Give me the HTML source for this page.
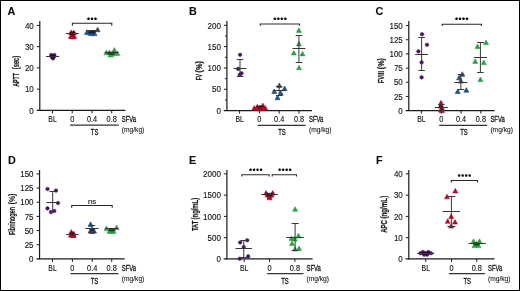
<!DOCTYPE html>
<html><head><meta charset="utf-8"><style>
html,body{margin:0;padding:0;background:#fff;}
svg{display:block;will-change:transform;}
text{font-family:"Liberation Sans",sans-serif;fill:#111;stroke:#111;stroke-width:0.12;}
.c{stroke:#111;stroke-width:0.3;}
.b{font-weight:bold;stroke:#1a1a1a;stroke-width:0.22;vector-effect:non-scaling-stroke;fill:#1a1a1a;}
.d{stroke:#111;stroke-width:0.1;}
</style></head><body>
<svg width="520" height="291" viewBox="0 0 520 291">
<rect x="0.5" y="0.5" width="519" height="290" fill="#fff" stroke="#000" stroke-width="1"/>
<text x="7.5" y="15.2" font-size="10.8" font-weight="bold" stroke="#000" stroke-width="0.3">A</text>
<line x1="39.8" y1="21" x2="39.8" y2="110.9" stroke="#1a1a1a" stroke-width="1.2"/>
<line x1="36.6" y1="110.4" x2="125.4" y2="110.4" stroke="#1a1a1a" stroke-width="1.2"/>
<line x1="36.8" y1="25.4" x2="39.8" y2="25.4" stroke="#1a1a1a" stroke-width="1"/>
<line x1="36.8" y1="46.65" x2="39.8" y2="46.65" stroke="#1a1a1a" stroke-width="1"/>
<line x1="36.8" y1="67.9" x2="39.8" y2="67.9" stroke="#1a1a1a" stroke-width="1"/>
<line x1="36.8" y1="89.15" x2="39.8" y2="89.15" stroke="#1a1a1a" stroke-width="1"/>
<text x="33.8" y="28.6" font-size="8.5" text-anchor="end" textLength="8.9" lengthAdjust="spacingAndGlyphs">40</text>
<text x="33.8" y="49.85" font-size="8.5" text-anchor="end" textLength="8.9" lengthAdjust="spacingAndGlyphs">30</text>
<text x="33.8" y="71.1" font-size="8.5" text-anchor="end" textLength="8.9" lengthAdjust="spacingAndGlyphs">20</text>
<text x="33.8" y="92.35" font-size="8.5" text-anchor="end" textLength="8.9" lengthAdjust="spacingAndGlyphs">10</text>
<text x="33.8" y="113.6" font-size="8.5" text-anchor="end" textLength="4.45" lengthAdjust="spacingAndGlyphs">0</text>
<line x1="52.5" y1="110.4" x2="52.5" y2="113.4" stroke="#1a1a1a" stroke-width="1"/>
<line x1="72.2" y1="110.4" x2="72.2" y2="113.4" stroke="#1a1a1a" stroke-width="1"/>
<line x1="92.0" y1="110.4" x2="92.0" y2="113.4" stroke="#1a1a1a" stroke-width="1"/>
<line x1="111.7" y1="110.4" x2="111.7" y2="113.4" stroke="#1a1a1a" stroke-width="1"/>
<text x="52.5" y="122.0" font-size="8.2" text-anchor="middle" textLength="8.4" lengthAdjust="spacingAndGlyphs">BL</text>
<text x="72.2" y="122.0" font-size="8.2" text-anchor="middle" textLength="4.1" lengthAdjust="spacingAndGlyphs">0</text>
<text x="92.0" y="122.0" font-size="8.2" text-anchor="middle" textLength="10.2" lengthAdjust="spacingAndGlyphs">0.4</text>
<text x="111.7" y="122.0" font-size="8.2" text-anchor="middle" textLength="10.2" lengthAdjust="spacingAndGlyphs">0.8</text>
<text x="121.8" y="122.0" font-size="8.9" textLength="14.3" lengthAdjust="spacingAndGlyphs" class="c">SFVa</text>
<text x="121.8" y="132.1" font-size="8.1" textLength="22.5" lengthAdjust="spacingAndGlyphs" class="d">(mg/kg)</text>
<line x1="70" y1="125.15" x2="118.6" y2="125.15" stroke="#333" stroke-width="1.3"/>
<text x="94.6" y="135.0" font-size="9.2" text-anchor="middle" textLength="7.5" lengthAdjust="spacingAndGlyphs" class="c">TS</text>
<text class="b" transform="translate(18.9,86.8) rotate(-90)" font-size="8.7" textLength="13.9" lengthAdjust="spacingAndGlyphs">APTT</text>
<text class="b" transform="translate(18.9,69.2) rotate(-90)" font-size="8.7" textLength="13.4" lengthAdjust="spacingAndGlyphs">(sec)</text>
<path d="M72.4 25.8V23.3H111.8V25.8" fill="none" stroke="#2a2a2a" stroke-width="1.1"/>
<polygon points="88.50,17.25 89.18,17.86 89.97,18.32 89.61,19.16 89.41,20.05 88.50,19.96 87.59,20.05 87.39,19.16 87.03,18.32 87.82,17.86" fill="#111"/>
<polygon points="92.00,17.25 92.68,17.86 93.47,18.32 93.11,19.16 92.91,20.05 92.00,19.96 91.09,20.05 90.89,19.16 90.53,18.32 91.32,17.86" fill="#111"/>
<polygon points="95.50,17.25 96.18,17.86 96.97,18.32 96.61,19.16 96.41,20.05 95.50,19.96 94.59,20.05 94.39,19.16 94.03,18.32 94.82,17.86" fill="#111"/>
<circle cx="51.2" cy="55.0" r="1.8" fill="#52106f" stroke="#3c0858" stroke-width="0.45"/>
<circle cx="54.4" cy="55.0" r="1.8" fill="#52106f" stroke="#3c0858" stroke-width="0.45"/>
<circle cx="51.7" cy="56.8" r="1.8" fill="#52106f" stroke="#3c0858" stroke-width="0.45"/>
<circle cx="53.9" cy="56.8" r="1.8" fill="#52106f" stroke="#3c0858" stroke-width="0.45"/>
<circle cx="52.9" cy="58.4" r="1.8" fill="#52106f" stroke="#3c0858" stroke-width="0.45"/>
<ellipse cx="52.8" cy="56.6" rx="2.4" ry="1.8" fill="#12001c" opacity="0.75"/>
<path d="M71.10 30.00L73.60 34.60L68.60 34.60Z" fill="#cc0024" stroke="#b0001c" stroke-width="0.5" stroke-linejoin="round"/>
<path d="M73.90 30.00L76.40 34.60L71.40 34.60Z" fill="#cc0024" stroke="#b0001c" stroke-width="0.5" stroke-linejoin="round"/>
<path d="M72.50 31.50L75.00 36.10L70.00 36.10Z" fill="#cc0024" stroke="#b0001c" stroke-width="0.5" stroke-linejoin="round"/>
<path d="M70.90 33.80L73.40 38.40L68.40 38.40Z" fill="#cc0024" stroke="#b0001c" stroke-width="0.5" stroke-linejoin="round"/>
<path d="M74.10 33.80L76.60 38.40L71.60 38.40Z" fill="#cc0024" stroke="#b0001c" stroke-width="0.5" stroke-linejoin="round"/>
<path d="M72.50 34.20L75.00 38.80L70.00 38.80Z" fill="#cc0024" stroke="#b0001c" stroke-width="0.5" stroke-linejoin="round"/>
<ellipse cx="72.5" cy="33.4" rx="3.2" ry="2.0" fill="#28000a" opacity="0.75"/>
<path d="M86.90 29.80L89.40 34.40L84.40 34.40Z" fill="#175a9c" stroke="#082c52" stroke-width="0.5" stroke-linejoin="round"/>
<path d="M90.00 30.50L92.50 35.10L87.50 35.10Z" fill="#175a9c" stroke="#082c52" stroke-width="0.5" stroke-linejoin="round"/>
<path d="M92.50 30.00L95.00 34.60L90.00 34.60Z" fill="#175a9c" stroke="#082c52" stroke-width="0.5" stroke-linejoin="round"/>
<path d="M94.50 31.00L97.00 35.60L92.00 35.60Z" fill="#175a9c" stroke="#082c52" stroke-width="0.5" stroke-linejoin="round"/>
<path d="M91.50 31.00L94.00 35.60L89.00 35.60Z" fill="#175a9c" stroke="#082c52" stroke-width="0.5" stroke-linejoin="round"/>
<path d="M97.60 27.20L100.10 31.80L95.10 31.80Z" fill="#175a9c" stroke="#082c52" stroke-width="0.5" stroke-linejoin="round"/>
<ellipse cx="91.8" cy="31.8" rx="4.0" ry="1.6" fill="#031530" opacity="0.75"/>
<path d="M106.30 50.00L108.80 54.60L103.80 54.60Z" fill="#22aa3c" stroke="#1a9432" stroke-width="0.5" stroke-linejoin="round"/>
<path d="M109.30 50.00L111.80 54.60L106.80 54.60Z" fill="#22aa3c" stroke="#1a9432" stroke-width="0.5" stroke-linejoin="round"/>
<path d="M112.50 51.50L115.00 56.10L110.00 56.10Z" fill="#22aa3c" stroke="#1a9432" stroke-width="0.5" stroke-linejoin="round"/>
<path d="M114.30 47.60L116.80 52.20L111.80 52.20Z" fill="#22aa3c" stroke="#1a9432" stroke-width="0.5" stroke-linejoin="round"/>
<path d="M117.30 50.80L119.80 55.40L114.80 55.40Z" fill="#22aa3c" stroke="#1a9432" stroke-width="0.5" stroke-linejoin="round"/>
<path d="M110.50 52.30L113.00 56.90L108.00 56.90Z" fill="#22aa3c" stroke="#1a9432" stroke-width="0.5" stroke-linejoin="round"/>
<ellipse cx="111.6" cy="53.2" rx="4.5" ry="1.6" fill="#03280a" opacity="0.75"/>
<text x="188.9" y="15.2" font-size="10.8" font-weight="bold" stroke="#000" stroke-width="0.3">B</text>
<line x1="226.9" y1="21" x2="226.9" y2="111.1" stroke="#1a1a1a" stroke-width="1.2"/>
<line x1="223.7" y1="110.6" x2="312" y2="110.6" stroke="#1a1a1a" stroke-width="1.2"/>
<line x1="223.9" y1="25.3" x2="226.9" y2="25.3" stroke="#1a1a1a" stroke-width="1"/>
<line x1="223.9" y1="46.62" x2="226.9" y2="46.62" stroke="#1a1a1a" stroke-width="1"/>
<line x1="223.9" y1="67.95" x2="226.9" y2="67.95" stroke="#1a1a1a" stroke-width="1"/>
<line x1="223.9" y1="89.27" x2="226.9" y2="89.27" stroke="#1a1a1a" stroke-width="1"/>
<text x="220.9" y="28.5" font-size="8.5" text-anchor="end" textLength="13.35" lengthAdjust="spacingAndGlyphs">200</text>
<text x="220.9" y="49.82" font-size="8.5" text-anchor="end" textLength="13.35" lengthAdjust="spacingAndGlyphs">150</text>
<text x="220.9" y="71.15" font-size="8.5" text-anchor="end" textLength="13.35" lengthAdjust="spacingAndGlyphs">100</text>
<text x="220.9" y="92.47" font-size="8.5" text-anchor="end" textLength="8.9" lengthAdjust="spacingAndGlyphs">50</text>
<text x="220.9" y="113.8" font-size="8.5" text-anchor="end" textLength="4.45" lengthAdjust="spacingAndGlyphs">0</text>
<line x1="224.9" y1="35.96" x2="226.9" y2="35.96" stroke="#1a1a1a" stroke-width="1"/>
<line x1="224.9" y1="57.29" x2="226.9" y2="57.29" stroke="#1a1a1a" stroke-width="1"/>
<line x1="224.9" y1="78.61" x2="226.9" y2="78.61" stroke="#1a1a1a" stroke-width="1"/>
<line x1="224.9" y1="99.94" x2="226.9" y2="99.94" stroke="#1a1a1a" stroke-width="1"/>
<line x1="239.6" y1="110.6" x2="239.6" y2="113.6" stroke="#1a1a1a" stroke-width="1"/>
<line x1="259.4" y1="110.6" x2="259.4" y2="113.6" stroke="#1a1a1a" stroke-width="1"/>
<line x1="279.2" y1="110.6" x2="279.2" y2="113.6" stroke="#1a1a1a" stroke-width="1"/>
<line x1="299.0" y1="110.6" x2="299.0" y2="113.6" stroke="#1a1a1a" stroke-width="1"/>
<text x="239.6" y="122.2" font-size="8.2" text-anchor="middle" textLength="8.4" lengthAdjust="spacingAndGlyphs">BL</text>
<text x="259.4" y="122.2" font-size="8.2" text-anchor="middle" textLength="4.1" lengthAdjust="spacingAndGlyphs">0</text>
<text x="279.2" y="122.2" font-size="8.2" text-anchor="middle" textLength="10.2" lengthAdjust="spacingAndGlyphs">0.4</text>
<text x="299.0" y="122.2" font-size="8.2" text-anchor="middle" textLength="10.2" lengthAdjust="spacingAndGlyphs">0.8</text>
<text x="309" y="122.2" font-size="8.9" textLength="14.3" lengthAdjust="spacingAndGlyphs" class="c">SFVa</text>
<text x="309" y="132.3" font-size="8.1" textLength="22.5" lengthAdjust="spacingAndGlyphs" class="d">(mg/kg)</text>
<line x1="257.6" y1="125.35" x2="305.6" y2="125.35" stroke="#333" stroke-width="1.3"/>
<text x="282" y="135.2" font-size="9.2" text-anchor="middle" textLength="7.5" lengthAdjust="spacingAndGlyphs" class="c">TS</text>
<text class="b" transform="translate(201.8,80.3) rotate(-90)" font-size="8.7" textLength="6.3" lengthAdjust="spacingAndGlyphs">FV</text>
<text class="b" transform="translate(201.8,72.5) rotate(-90)" font-size="8.7" textLength="11.4" lengthAdjust="spacingAndGlyphs">(%)</text>
<path d="M260.2 25.8V24H299.5V25.8" fill="none" stroke="#2a2a2a" stroke-width="1.1"/>
<polygon points="274.85,17.25 275.53,17.86 276.32,18.32 275.96,19.16 275.76,20.05 274.85,19.96 273.94,20.05 273.74,19.16 273.38,18.32 274.17,17.86" fill="#111"/>
<polygon points="278.35,17.25 279.03,17.86 279.82,18.32 279.46,19.16 279.26,20.05 278.35,19.96 277.44,20.05 277.24,19.16 276.88,18.32 277.67,17.86" fill="#111"/>
<polygon points="281.85,17.25 282.53,17.86 283.32,18.32 282.96,19.16 282.76,20.05 281.85,19.96 280.94,20.05 280.74,19.16 280.38,18.32 281.17,17.86" fill="#111"/>
<polygon points="285.35,17.25 286.03,17.86 286.82,18.32 286.46,19.16 286.26,20.05 285.35,19.96 284.44,20.05 284.24,19.16 283.88,18.32 284.67,17.86" fill="#111"/>
<circle cx="240.1" cy="54.8" r="1.8" fill="#52106f" stroke="#3c0858" stroke-width="0.45"/>
<circle cx="238.2" cy="68.9" r="1.8" fill="#52106f" stroke="#3c0858" stroke-width="0.45"/>
<circle cx="241.5" cy="73.3" r="1.8" fill="#52106f" stroke="#3c0858" stroke-width="0.45"/>
<circle cx="239.7" cy="74.8" r="1.8" fill="#52106f" stroke="#3c0858" stroke-width="0.45"/>
<path d="M254.30 105.60L256.80 110.20L251.80 110.20Z" fill="#cc0024" stroke="#b0001c" stroke-width="0.5" stroke-linejoin="round"/>
<path d="M257.30 104.20L259.80 108.80L254.80 108.80Z" fill="#cc0024" stroke="#b0001c" stroke-width="0.5" stroke-linejoin="round"/>
<path d="M260.20 105.00L262.70 109.60L257.70 109.60Z" fill="#cc0024" stroke="#b0001c" stroke-width="0.5" stroke-linejoin="round"/>
<path d="M262.80 103.00L265.30 107.60L260.30 107.60Z" fill="#cc0024" stroke="#b0001c" stroke-width="0.5" stroke-linejoin="round"/>
<path d="M265.30 105.60L267.80 110.20L262.80 110.20Z" fill="#cc0024" stroke="#b0001c" stroke-width="0.5" stroke-linejoin="round"/>
<path d="M258.50 106.00L261.00 110.60L256.00 110.60Z" fill="#cc0024" stroke="#b0001c" stroke-width="0.5" stroke-linejoin="round"/>
<path d="M262.00 106.00L264.50 110.60L259.50 110.60Z" fill="#cc0024" stroke="#b0001c" stroke-width="0.5" stroke-linejoin="round"/>
<ellipse cx="259.8" cy="107.0" rx="3.8" ry="1.5" fill="#28000a" opacity="0.75"/>
<path d="M279.30 82.90L281.80 87.50L276.80 87.50Z" fill="#175a9c" stroke="#082c52" stroke-width="0.5" stroke-linejoin="round"/>
<path d="M284.60 86.10L287.10 90.70L282.10 90.70Z" fill="#175a9c" stroke="#082c52" stroke-width="0.5" stroke-linejoin="round"/>
<path d="M274.30 89.00L276.80 93.60L271.80 93.60Z" fill="#175a9c" stroke="#082c52" stroke-width="0.5" stroke-linejoin="round"/>
<path d="M280.80 90.60L283.30 95.20L278.30 95.20Z" fill="#175a9c" stroke="#082c52" stroke-width="0.5" stroke-linejoin="round"/>
<path d="M277.50 95.10L280.00 99.70L275.00 99.70Z" fill="#175a9c" stroke="#082c52" stroke-width="0.5" stroke-linejoin="round"/>
<path d="M298.90 27.80L301.40 32.40L296.40 32.40Z" fill="#22aa3c" stroke="#1a9432" stroke-width="0.5" stroke-linejoin="round"/>
<path d="M298.90 41.30L301.40 45.90L296.40 45.90Z" fill="#22aa3c" stroke="#1a9432" stroke-width="0.5" stroke-linejoin="round"/>
<path d="M293.80 50.40L296.30 55.00L291.30 55.00Z" fill="#22aa3c" stroke="#1a9432" stroke-width="0.5" stroke-linejoin="round"/>
<path d="M302.50 51.30L305.00 55.90L300.00 55.90Z" fill="#22aa3c" stroke="#1a9432" stroke-width="0.5" stroke-linejoin="round"/>
<path d="M299.00 65.20L301.50 69.80L296.50 69.80Z" fill="#22aa3c" stroke="#1a9432" stroke-width="0.5" stroke-linejoin="round"/>
<text x="375.5" y="15.2" font-size="10.8" font-weight="bold" stroke="#000" stroke-width="0.3">C</text>
<line x1="408.8" y1="21" x2="408.8" y2="111.1" stroke="#1a1a1a" stroke-width="1.2"/>
<line x1="405.6" y1="110.6" x2="494.6" y2="110.6" stroke="#1a1a1a" stroke-width="1.2"/>
<line x1="405.8" y1="25.59" x2="408.8" y2="25.59" stroke="#1a1a1a" stroke-width="1"/>
<line x1="405.8" y1="39.76" x2="408.8" y2="39.76" stroke="#1a1a1a" stroke-width="1"/>
<line x1="405.8" y1="53.93" x2="408.8" y2="53.93" stroke="#1a1a1a" stroke-width="1"/>
<line x1="405.8" y1="68.1" x2="408.8" y2="68.1" stroke="#1a1a1a" stroke-width="1"/>
<line x1="405.8" y1="82.26" x2="408.8" y2="82.26" stroke="#1a1a1a" stroke-width="1"/>
<line x1="405.8" y1="96.43" x2="408.8" y2="96.43" stroke="#1a1a1a" stroke-width="1"/>
<text x="402.8" y="28.79" font-size="8.5" text-anchor="end" textLength="13.35" lengthAdjust="spacingAndGlyphs">150</text>
<text x="402.8" y="42.96" font-size="8.5" text-anchor="end" textLength="13.35" lengthAdjust="spacingAndGlyphs">125</text>
<text x="402.8" y="57.13" font-size="8.5" text-anchor="end" textLength="13.35" lengthAdjust="spacingAndGlyphs">100</text>
<text x="402.8" y="71.3" font-size="8.5" text-anchor="end" textLength="8.9" lengthAdjust="spacingAndGlyphs">75</text>
<text x="402.8" y="85.46" font-size="8.5" text-anchor="end" textLength="8.9" lengthAdjust="spacingAndGlyphs">50</text>
<text x="402.8" y="99.63" font-size="8.5" text-anchor="end" textLength="8.9" lengthAdjust="spacingAndGlyphs">25</text>
<text x="402.8" y="113.8" font-size="8.5" text-anchor="end" textLength="4.45" lengthAdjust="spacingAndGlyphs">0</text>
<line x1="421.4" y1="110.6" x2="421.4" y2="113.6" stroke="#1a1a1a" stroke-width="1"/>
<line x1="441.3" y1="110.6" x2="441.3" y2="113.6" stroke="#1a1a1a" stroke-width="1"/>
<line x1="461.1" y1="110.6" x2="461.1" y2="113.6" stroke="#1a1a1a" stroke-width="1"/>
<line x1="480.9" y1="110.6" x2="480.9" y2="113.6" stroke="#1a1a1a" stroke-width="1"/>
<text x="421.4" y="122.2" font-size="8.2" text-anchor="middle" textLength="8.4" lengthAdjust="spacingAndGlyphs">BL</text>
<text x="441.3" y="122.2" font-size="8.2" text-anchor="middle" textLength="4.1" lengthAdjust="spacingAndGlyphs">0</text>
<text x="461.1" y="122.2" font-size="8.2" text-anchor="middle" textLength="10.2" lengthAdjust="spacingAndGlyphs">0.4</text>
<text x="480.9" y="122.2" font-size="8.2" text-anchor="middle" textLength="10.2" lengthAdjust="spacingAndGlyphs">0.8</text>
<text x="490.4" y="122.2" font-size="8.9" textLength="14.3" lengthAdjust="spacingAndGlyphs" class="c">SFVa</text>
<text x="490.4" y="132.3" font-size="8.1" textLength="22.5" lengthAdjust="spacingAndGlyphs" class="d">(mg/kg)</text>
<line x1="439.2" y1="125.35" x2="487.2" y2="125.35" stroke="#333" stroke-width="1.3"/>
<text x="464" y="135.2" font-size="9.2" text-anchor="middle" textLength="7.5" lengthAdjust="spacingAndGlyphs" class="c">TS</text>
<text class="b" transform="translate(384,83.2) rotate(-90)" font-size="8.7" textLength="12.3" lengthAdjust="spacingAndGlyphs">FVIII</text>
<text class="b" transform="translate(384,69.2) rotate(-90)" font-size="8.7" textLength="11.1" lengthAdjust="spacingAndGlyphs">(%)</text>
<path d="M442.2 26V24.2H481.5V26" fill="none" stroke="#2a2a2a" stroke-width="1.1"/>
<polygon points="456.55,17.25 457.23,17.86 458.02,18.32 457.66,19.16 457.46,20.05 456.55,19.96 455.64,20.05 455.44,19.16 455.08,18.32 455.87,17.86" fill="#111"/>
<polygon points="460.05,17.25 460.73,17.86 461.52,18.32 461.16,19.16 460.96,20.05 460.05,19.96 459.14,20.05 458.94,19.16 458.58,18.32 459.37,17.86" fill="#111"/>
<polygon points="463.55,17.25 464.23,17.86 465.02,18.32 464.66,19.16 464.46,20.05 463.55,19.96 462.64,20.05 462.44,19.16 462.08,18.32 462.87,17.86" fill="#111"/>
<polygon points="467.05,17.25 467.73,17.86 468.52,18.32 468.16,19.16 467.96,20.05 467.05,19.96 466.14,20.05 465.94,19.16 465.58,18.32 466.37,17.86" fill="#111"/>
<circle cx="422" cy="34.2" r="1.8" fill="#52106f" stroke="#3c0858" stroke-width="0.45"/>
<circle cx="427" cy="44.8" r="1.8" fill="#52106f" stroke="#3c0858" stroke-width="0.45"/>
<circle cx="418.4" cy="51.4" r="1.8" fill="#52106f" stroke="#3c0858" stroke-width="0.45"/>
<circle cx="421.6" cy="62.4" r="1.8" fill="#52106f" stroke="#3c0858" stroke-width="0.45"/>
<circle cx="421.6" cy="77.4" r="1.8" fill="#52106f" stroke="#3c0858" stroke-width="0.45"/>
<path d="M441.00 100.20L443.50 104.80L438.50 104.80Z" fill="#cc0024" stroke="#b0001c" stroke-width="0.5" stroke-linejoin="round"/>
<path d="M440.50 103.50L443.00 108.10L438.00 108.10Z" fill="#cc0024" stroke="#b0001c" stroke-width="0.5" stroke-linejoin="round"/>
<path d="M442.00 105.50L444.50 110.10L439.50 110.10Z" fill="#cc0024" stroke="#b0001c" stroke-width="0.5" stroke-linejoin="round"/>
<path d="M441.00 107.50L443.50 112.10L438.50 112.10Z" fill="#cc0024" stroke="#b0001c" stroke-width="0.5" stroke-linejoin="round"/>
<path d="M442.00 108.00L444.50 112.60L439.50 112.60Z" fill="#cc0024" stroke="#b0001c" stroke-width="0.5" stroke-linejoin="round"/>
<ellipse cx="441.2" cy="106.5" rx="2.2" ry="2.5" fill="#28000a" opacity="0.75"/>
<path d="M462.30 71.70L464.80 76.30L459.80 76.30Z" fill="#175a9c" stroke="#082c52" stroke-width="0.5" stroke-linejoin="round"/>
<path d="M459.10 75.20L461.60 79.80L456.60 79.80Z" fill="#175a9c" stroke="#082c52" stroke-width="0.5" stroke-linejoin="round"/>
<path d="M460.80 78.50L463.30 83.10L458.30 83.10Z" fill="#175a9c" stroke="#082c52" stroke-width="0.5" stroke-linejoin="round"/>
<path d="M457.70 89.00L460.20 93.60L455.20 93.60Z" fill="#175a9c" stroke="#082c52" stroke-width="0.5" stroke-linejoin="round"/>
<path d="M466.30 87.60L468.80 92.20L463.80 92.20Z" fill="#175a9c" stroke="#082c52" stroke-width="0.5" stroke-linejoin="round"/>
<path d="M486.00 40.00L488.50 44.60L483.50 44.60Z" fill="#22aa3c" stroke="#1a9432" stroke-width="0.5" stroke-linejoin="round"/>
<path d="M477.50 44.00L480.00 48.60L475.00 48.60Z" fill="#22aa3c" stroke="#1a9432" stroke-width="0.5" stroke-linejoin="round"/>
<path d="M475.20 58.80L477.70 63.40L472.70 63.40Z" fill="#22aa3c" stroke="#1a9432" stroke-width="0.5" stroke-linejoin="round"/>
<path d="M483.80 60.00L486.30 64.60L481.30 64.60Z" fill="#22aa3c" stroke="#1a9432" stroke-width="0.5" stroke-linejoin="round"/>
<path d="M480.40 77.00L482.90 81.60L477.90 81.60Z" fill="#22aa3c" stroke="#1a9432" stroke-width="0.5" stroke-linejoin="round"/>
<text x="7.9" y="164.0" font-size="10.8" font-weight="bold" stroke="#000" stroke-width="0.3">D</text>
<line x1="39.55" y1="170" x2="39.55" y2="259.4" stroke="#1a1a1a" stroke-width="1.2"/>
<line x1="36.35" y1="258.9" x2="124.6" y2="258.9" stroke="#1a1a1a" stroke-width="1.2"/>
<line x1="36.55" y1="173.89" x2="39.55" y2="173.89" stroke="#1a1a1a" stroke-width="1"/>
<line x1="36.55" y1="188.06" x2="39.55" y2="188.06" stroke="#1a1a1a" stroke-width="1"/>
<line x1="36.55" y1="202.23" x2="39.55" y2="202.23" stroke="#1a1a1a" stroke-width="1"/>
<line x1="36.55" y1="216.4" x2="39.55" y2="216.4" stroke="#1a1a1a" stroke-width="1"/>
<line x1="36.55" y1="230.56" x2="39.55" y2="230.56" stroke="#1a1a1a" stroke-width="1"/>
<line x1="36.55" y1="244.73" x2="39.55" y2="244.73" stroke="#1a1a1a" stroke-width="1"/>
<text x="33.55" y="177.09" font-size="8.5" text-anchor="end" textLength="13.35" lengthAdjust="spacingAndGlyphs">150</text>
<text x="33.55" y="191.26" font-size="8.5" text-anchor="end" textLength="13.35" lengthAdjust="spacingAndGlyphs">125</text>
<text x="33.55" y="205.43" font-size="8.5" text-anchor="end" textLength="13.35" lengthAdjust="spacingAndGlyphs">100</text>
<text x="33.55" y="219.6" font-size="8.5" text-anchor="end" textLength="8.9" lengthAdjust="spacingAndGlyphs">75</text>
<text x="33.55" y="233.76" font-size="8.5" text-anchor="end" textLength="8.9" lengthAdjust="spacingAndGlyphs">50</text>
<text x="33.55" y="247.93" font-size="8.5" text-anchor="end" textLength="8.9" lengthAdjust="spacingAndGlyphs">25</text>
<text x="33.55" y="262.1" font-size="8.5" text-anchor="end" textLength="4.45" lengthAdjust="spacingAndGlyphs">0</text>
<line x1="52.5" y1="258.9" x2="52.5" y2="261.9" stroke="#1a1a1a" stroke-width="1"/>
<line x1="72.4" y1="258.9" x2="72.4" y2="261.9" stroke="#1a1a1a" stroke-width="1"/>
<line x1="92.2" y1="258.9" x2="92.2" y2="261.9" stroke="#1a1a1a" stroke-width="1"/>
<line x1="111.7" y1="258.9" x2="111.7" y2="261.9" stroke="#1a1a1a" stroke-width="1"/>
<text x="52.5" y="270.5" font-size="8.2" text-anchor="middle" textLength="8.4" lengthAdjust="spacingAndGlyphs">BL</text>
<text x="72.4" y="270.5" font-size="8.2" text-anchor="middle" textLength="4.1" lengthAdjust="spacingAndGlyphs">0</text>
<text x="92.2" y="270.5" font-size="8.2" text-anchor="middle" textLength="10.2" lengthAdjust="spacingAndGlyphs">0.4</text>
<text x="111.7" y="270.5" font-size="8.2" text-anchor="middle" textLength="10.2" lengthAdjust="spacingAndGlyphs">0.8</text>
<text x="121.8" y="270.5" font-size="8.9" textLength="14.3" lengthAdjust="spacingAndGlyphs" class="c">SFVa</text>
<text x="121.8" y="280.6" font-size="8.1" textLength="22.5" lengthAdjust="spacingAndGlyphs" class="d">(mg/kg)</text>
<line x1="70.4" y1="273.65" x2="118.4" y2="273.65" stroke="#333" stroke-width="1.3"/>
<text x="94.5" y="283.5" font-size="9.2" text-anchor="middle" textLength="7.5" lengthAdjust="spacingAndGlyphs" class="c">TS</text>
<text class="b" transform="translate(15.0,235.0) rotate(-90)" font-size="8.7" textLength="28.0" lengthAdjust="spacingAndGlyphs">Fibrinogen</text>
<text class="b" transform="translate(15.0,204.3) rotate(-90)" font-size="8.7" textLength="10.5" lengthAdjust="spacingAndGlyphs">(%)</text>
<path d="M71.7 207.8V205.5H112.2V207.8" fill="none" stroke="#2a2a2a" stroke-width="1.1"/>
<text x="92" y="203.5" font-size="7.8" text-anchor="middle">ns</text>
<circle cx="47.5" cy="189" r="1.8" fill="#52106f" stroke="#3c0858" stroke-width="0.45"/>
<circle cx="56" cy="190.6" r="1.8" fill="#52106f" stroke="#3c0858" stroke-width="0.45"/>
<circle cx="58" cy="203" r="1.8" fill="#52106f" stroke="#3c0858" stroke-width="0.45"/>
<circle cx="47.5" cy="208.4" r="1.8" fill="#52106f" stroke="#3c0858" stroke-width="0.45"/>
<circle cx="51" cy="212.1" r="1.8" fill="#52106f" stroke="#3c0858" stroke-width="0.45"/>
<circle cx="54.3" cy="211" r="1.8" fill="#52106f" stroke="#3c0858" stroke-width="0.45"/>
<path d="M71.30 229.60L73.70 234.00L68.90 234.00Z" fill="#cc0024" stroke="#b0001c" stroke-width="0.5" stroke-linejoin="round"/>
<path d="M73.60 231.00L76.00 235.40L71.20 235.40Z" fill="#cc0024" stroke="#b0001c" stroke-width="0.5" stroke-linejoin="round"/>
<path d="M70.80 232.60L73.20 237.00L68.40 237.00Z" fill="#cc0024" stroke="#b0001c" stroke-width="0.5" stroke-linejoin="round"/>
<path d="M74.00 233.00L76.40 237.40L71.60 237.40Z" fill="#cc0024" stroke="#b0001c" stroke-width="0.5" stroke-linejoin="round"/>
<path d="M72.30 233.20L74.70 237.60L69.90 237.60Z" fill="#cc0024" stroke="#b0001c" stroke-width="0.5" stroke-linejoin="round"/>
<ellipse cx="72.3" cy="234.0" rx="2.8" ry="1.8" fill="#28000a" opacity="0.75"/>
<path d="M90.60 221.80L93.10 226.40L88.10 226.40Z" fill="#175a9c" stroke="#082c52" stroke-width="0.5" stroke-linejoin="round"/>
<path d="M90.50 228.50L93.00 233.10L88.00 233.10Z" fill="#175a9c" stroke="#082c52" stroke-width="0.5" stroke-linejoin="round"/>
<path d="M94.00 228.50L96.50 233.10L91.50 233.10Z" fill="#175a9c" stroke="#082c52" stroke-width="0.5" stroke-linejoin="round"/>
<path d="M92.20 229.00L94.70 233.60L89.70 233.60Z" fill="#175a9c" stroke="#082c52" stroke-width="0.5" stroke-linejoin="round"/>
<ellipse cx="92.2" cy="229.2" rx="2.5" ry="1.8" fill="#031530" opacity="0.75"/>
<path d="M106.50 226.00L109.00 230.60L104.00 230.60Z" fill="#22aa3c" stroke="#1a9432" stroke-width="0.5" stroke-linejoin="round"/>
<path d="M116.60 225.00L119.10 229.60L114.10 229.60Z" fill="#22aa3c" stroke="#1a9432" stroke-width="0.5" stroke-linejoin="round"/>
<path d="M109.50 228.60L112.00 233.20L107.00 233.20Z" fill="#22aa3c" stroke="#1a9432" stroke-width="0.5" stroke-linejoin="round"/>
<path d="M113.50 228.60L116.00 233.20L111.00 233.20Z" fill="#22aa3c" stroke="#1a9432" stroke-width="0.5" stroke-linejoin="round"/>
<path d="M111.50 229.00L114.00 233.60L109.00 233.60Z" fill="#22aa3c" stroke="#1a9432" stroke-width="0.5" stroke-linejoin="round"/>
<ellipse cx="112" cy="229.8" rx="3.5" ry="1.5" fill="#03280a" opacity="0.75"/>
<text x="188.9" y="164.0" font-size="10.8" font-weight="bold" stroke="#000" stroke-width="0.3">E</text>
<line x1="226.9" y1="170" x2="226.9" y2="259.4" stroke="#1a1a1a" stroke-width="1.2"/>
<line x1="223.7" y1="258.9" x2="312.6" y2="258.9" stroke="#1a1a1a" stroke-width="1.2"/>
<line x1="223.9" y1="173.9" x2="226.9" y2="173.9" stroke="#1a1a1a" stroke-width="1"/>
<line x1="223.9" y1="195.15" x2="226.9" y2="195.15" stroke="#1a1a1a" stroke-width="1"/>
<line x1="223.9" y1="216.4" x2="226.9" y2="216.4" stroke="#1a1a1a" stroke-width="1"/>
<line x1="223.9" y1="237.65" x2="226.9" y2="237.65" stroke="#1a1a1a" stroke-width="1"/>
<text x="220.9" y="177.1" font-size="8.5" text-anchor="end" textLength="17.8" lengthAdjust="spacingAndGlyphs">2000</text>
<text x="220.9" y="198.35" font-size="8.5" text-anchor="end" textLength="17.8" lengthAdjust="spacingAndGlyphs">1500</text>
<text x="220.9" y="219.6" font-size="8.5" text-anchor="end" textLength="17.8" lengthAdjust="spacingAndGlyphs">1000</text>
<text x="220.9" y="240.85" font-size="8.5" text-anchor="end" textLength="13.35" lengthAdjust="spacingAndGlyphs">500</text>
<text x="220.9" y="262.1" font-size="8.5" text-anchor="end" textLength="4.45" lengthAdjust="spacingAndGlyphs">0</text>
<line x1="244.2" y1="258.9" x2="244.2" y2="261.9" stroke="#1a1a1a" stroke-width="1"/>
<line x1="269.5" y1="258.9" x2="269.5" y2="261.9" stroke="#1a1a1a" stroke-width="1"/>
<line x1="294.9" y1="258.9" x2="294.9" y2="261.9" stroke="#1a1a1a" stroke-width="1"/>
<text x="244.2" y="270.5" font-size="8.2" text-anchor="middle" textLength="8.4" lengthAdjust="spacingAndGlyphs">BL</text>
<text x="269.5" y="270.5" font-size="8.2" text-anchor="middle" textLength="4.1" lengthAdjust="spacingAndGlyphs">0</text>
<text x="294.9" y="270.5" font-size="8.2" text-anchor="middle" textLength="10.2" lengthAdjust="spacingAndGlyphs">0.8</text>
<text x="306.5" y="270.5" font-size="8.9" textLength="14.3" lengthAdjust="spacingAndGlyphs" class="c">SFVa</text>
<text x="306.5" y="280.6" font-size="8.1" textLength="22.5" lengthAdjust="spacingAndGlyphs" class="d">(mg/kg)</text>
<line x1="267.2" y1="273.65" x2="303.5" y2="273.65" stroke="#333" stroke-width="1.3"/>
<text x="285" y="283.5" font-size="9.2" text-anchor="middle" textLength="7.5" lengthAdjust="spacingAndGlyphs" class="c">TS</text>
<text class="b" transform="translate(198.2,231.1) rotate(-90)" font-size="8.7" textLength="10.3" lengthAdjust="spacingAndGlyphs">TAT</text>
<text class="b" transform="translate(198.2,219.4) rotate(-90)" font-size="8.7" textLength="21.5" lengthAdjust="spacingAndGlyphs">(ng/mL)</text>
<path d="M241.75 176.5V174.7H269.2V176.5" fill="none" stroke="#2a2a2a" stroke-width="1.1"/>
<path d="M272.2 176.5V174.7H296.5V176.5" fill="none" stroke="#2a2a2a" stroke-width="1.1"/>
<polygon points="250.55,168.20 251.23,168.81 252.02,169.27 251.66,170.11 251.46,171.00 250.55,170.91 249.64,171.00 249.44,170.11 249.08,169.27 249.87,168.81" fill="#111"/>
<polygon points="254.05,168.20 254.73,168.81 255.52,169.27 255.16,170.11 254.96,171.00 254.05,170.91 253.14,171.00 252.94,170.11 252.58,169.27 253.37,168.81" fill="#111"/>
<polygon points="257.55,168.20 258.23,168.81 259.02,169.27 258.66,170.11 258.46,171.00 257.55,170.91 256.64,171.00 256.44,170.11 256.08,169.27 256.87,168.81" fill="#111"/>
<polygon points="261.05,168.20 261.73,168.81 262.52,169.27 262.16,170.11 261.96,171.00 261.05,170.91 260.14,171.00 259.94,170.11 259.58,169.27 260.37,168.81" fill="#111"/>
<polygon points="279.65,168.20 280.33,168.81 281.12,169.27 280.76,170.11 280.56,171.00 279.65,170.91 278.74,171.00 278.54,170.11 278.18,169.27 278.97,168.81" fill="#111"/>
<polygon points="283.15,168.20 283.83,168.81 284.62,169.27 284.26,170.11 284.06,171.00 283.15,170.91 282.24,171.00 282.04,170.11 281.68,169.27 282.47,168.81" fill="#111"/>
<polygon points="286.65,168.20 287.33,168.81 288.12,169.27 287.76,170.11 287.56,171.00 286.65,170.91 285.74,171.00 285.54,170.11 285.18,169.27 285.97,168.81" fill="#111"/>
<polygon points="290.15,168.20 290.83,168.81 291.62,169.27 291.26,170.11 291.06,171.00 290.15,170.91 289.24,171.00 289.04,170.11 288.68,169.27 289.47,168.81" fill="#111"/>
<circle cx="240.2" cy="242.5" r="1.8" fill="#52106f" stroke="#3c0858" stroke-width="0.45"/>
<circle cx="247.2" cy="240.3" r="1.8" fill="#52106f" stroke="#3c0858" stroke-width="0.45"/>
<circle cx="243.75" cy="247" r="1.8" fill="#52106f" stroke="#3c0858" stroke-width="0.45"/>
<circle cx="248.2" cy="256.4" r="1.8" fill="#52106f" stroke="#3c0858" stroke-width="0.45"/>
<circle cx="239.7" cy="258.7" r="1.8" fill="#52106f" stroke="#3c0858" stroke-width="0.45"/>
<path d="M266.00 190.50L268.50 195.10L263.50 195.10Z" fill="#cc0024" stroke="#b0001c" stroke-width="0.5" stroke-linejoin="round"/>
<path d="M272.80 190.50L275.30 195.10L270.30 195.10Z" fill="#cc0024" stroke="#b0001c" stroke-width="0.5" stroke-linejoin="round"/>
<path d="M269.50 193.80L272.00 198.40L267.00 198.40Z" fill="#cc0024" stroke="#b0001c" stroke-width="0.5" stroke-linejoin="round"/>
<path d="M267.50 192.50L270.00 197.10L265.00 197.10Z" fill="#cc0024" stroke="#b0001c" stroke-width="0.5" stroke-linejoin="round"/>
<path d="M271.50 192.50L274.00 197.10L269.00 197.10Z" fill="#cc0024" stroke="#b0001c" stroke-width="0.5" stroke-linejoin="round"/>
<path d="M269.50 195.20L272.00 199.80L267.00 199.80Z" fill="#cc0024" stroke="#b0001c" stroke-width="0.5" stroke-linejoin="round"/>
<ellipse cx="269.5" cy="194.5" rx="3.5" ry="1.8" fill="#28000a" opacity="0.75"/>
<path d="M295.10 206.70L297.60 211.30L292.60 211.30Z" fill="#22aa3c" stroke="#1a9432" stroke-width="0.5" stroke-linejoin="round"/>
<path d="M298.50 233.30L301.00 237.90L296.00 237.90Z" fill="#22aa3c" stroke="#1a9432" stroke-width="0.5" stroke-linejoin="round"/>
<path d="M291.60 235.90L294.10 240.50L289.10 240.50Z" fill="#22aa3c" stroke="#1a9432" stroke-width="0.5" stroke-linejoin="round"/>
<path d="M294.80 236.50L297.30 241.10L292.30 241.10Z" fill="#22aa3c" stroke="#1a9432" stroke-width="0.5" stroke-linejoin="round"/>
<path d="M292.00 241.00L294.50 245.60L289.50 245.60Z" fill="#22aa3c" stroke="#1a9432" stroke-width="0.5" stroke-linejoin="round"/>
<path d="M299.00 245.90L301.50 250.50L296.50 250.50Z" fill="#22aa3c" stroke="#1a9432" stroke-width="0.5" stroke-linejoin="round"/>
<path d="M295.00 246.50L297.50 251.10L292.50 251.10Z" fill="#22aa3c" stroke="#1a9432" stroke-width="0.5" stroke-linejoin="round"/>
<text x="375.9" y="164.0" font-size="10.8" font-weight="bold" stroke="#000" stroke-width="0.3">F</text>
<line x1="408.8" y1="170" x2="408.8" y2="259.4" stroke="#1a1a1a" stroke-width="1.2"/>
<line x1="405.6" y1="258.9" x2="494.5" y2="258.9" stroke="#1a1a1a" stroke-width="1.2"/>
<line x1="405.8" y1="173.9" x2="408.8" y2="173.9" stroke="#1a1a1a" stroke-width="1"/>
<line x1="405.8" y1="195.15" x2="408.8" y2="195.15" stroke="#1a1a1a" stroke-width="1"/>
<line x1="405.8" y1="216.4" x2="408.8" y2="216.4" stroke="#1a1a1a" stroke-width="1"/>
<line x1="405.8" y1="237.65" x2="408.8" y2="237.65" stroke="#1a1a1a" stroke-width="1"/>
<text x="402.8" y="177.1" font-size="8.5" text-anchor="end" textLength="8.9" lengthAdjust="spacingAndGlyphs">40</text>
<text x="402.8" y="198.35" font-size="8.5" text-anchor="end" textLength="8.9" lengthAdjust="spacingAndGlyphs">30</text>
<text x="402.8" y="219.6" font-size="8.5" text-anchor="end" textLength="8.9" lengthAdjust="spacingAndGlyphs">20</text>
<text x="402.8" y="240.85" font-size="8.5" text-anchor="end" textLength="8.9" lengthAdjust="spacingAndGlyphs">10</text>
<text x="402.8" y="262.1" font-size="8.5" text-anchor="end" textLength="4.45" lengthAdjust="spacingAndGlyphs">0</text>
<line x1="425.75" y1="258.9" x2="425.75" y2="261.9" stroke="#1a1a1a" stroke-width="1"/>
<line x1="451.5" y1="258.9" x2="451.5" y2="261.9" stroke="#1a1a1a" stroke-width="1"/>
<line x1="476.75" y1="258.9" x2="476.75" y2="261.9" stroke="#1a1a1a" stroke-width="1"/>
<text x="425.75" y="270.5" font-size="8.2" text-anchor="middle" textLength="8.4" lengthAdjust="spacingAndGlyphs">BL</text>
<text x="451.5" y="270.5" font-size="8.2" text-anchor="middle" textLength="4.1" lengthAdjust="spacingAndGlyphs">0</text>
<text x="476.75" y="270.5" font-size="8.2" text-anchor="middle" textLength="10.2" lengthAdjust="spacingAndGlyphs">0.8</text>
<text x="488" y="270.5" font-size="8.9" textLength="14.3" lengthAdjust="spacingAndGlyphs" class="c">SFVa</text>
<text x="488" y="280.6" font-size="8.1" textLength="22.5" lengthAdjust="spacingAndGlyphs" class="d">(mg/kg)</text>
<line x1="448.9" y1="273.65" x2="484.9" y2="273.65" stroke="#333" stroke-width="1.3"/>
<text x="467.2" y="283.5" font-size="9.2" text-anchor="middle" textLength="7.5" lengthAdjust="spacingAndGlyphs" class="c">TS</text>
<text class="b" transform="translate(387.2,232.8) rotate(-90)" font-size="8.7" textLength="12.8" lengthAdjust="spacingAndGlyphs">APC</text>
<text class="b" transform="translate(387.2,218.5) rotate(-90)" font-size="8.7" textLength="22.7" lengthAdjust="spacingAndGlyphs">(ng/mL)</text>
<path d="M451.3 182.5V180.5H477.5V182.5" fill="none" stroke="#2a2a2a" stroke-width="1.1"/>
<polygon points="459.15,173.95 459.83,174.56 460.62,175.02 460.26,175.86 460.06,176.75 459.15,176.66 458.24,176.75 458.04,175.86 457.68,175.02 458.47,174.56" fill="#111"/>
<polygon points="462.65,173.95 463.33,174.56 464.12,175.02 463.76,175.86 463.56,176.75 462.65,176.66 461.74,176.75 461.54,175.86 461.18,175.02 461.97,174.56" fill="#111"/>
<polygon points="466.15,173.95 466.83,174.56 467.62,175.02 467.26,175.86 467.06,176.75 466.15,176.66 465.24,176.75 465.04,175.86 464.68,175.02 465.47,174.56" fill="#111"/>
<polygon points="469.65,173.95 470.33,174.56 471.12,175.02 470.76,175.86 470.56,176.75 469.65,176.66 468.74,176.75 468.54,175.86 468.18,175.02 468.97,174.56" fill="#111"/>
<circle cx="420.4" cy="253.2" r="1.8" fill="#52106f" stroke="#3c0858" stroke-width="0.45"/>
<circle cx="423" cy="252" r="1.8" fill="#52106f" stroke="#3c0858" stroke-width="0.45"/>
<circle cx="425.7" cy="253.2" r="1.8" fill="#52106f" stroke="#3c0858" stroke-width="0.45"/>
<circle cx="428.4" cy="252" r="1.8" fill="#52106f" stroke="#3c0858" stroke-width="0.45"/>
<circle cx="431" cy="253.2" r="1.8" fill="#52106f" stroke="#3c0858" stroke-width="0.45"/>
<circle cx="424.2" cy="254.7" r="1.8" fill="#52106f" stroke="#3c0858" stroke-width="0.45"/>
<circle cx="427.2" cy="254.7" r="1.8" fill="#52106f" stroke="#3c0858" stroke-width="0.45"/>
<ellipse cx="425.7" cy="253.3" rx="5" ry="1.5" fill="#12001c" opacity="0.75"/>
<path d="M455.30 188.30L457.80 192.90L452.80 192.90Z" fill="#cc0024" stroke="#b0001c" stroke-width="0.5" stroke-linejoin="round"/>
<path d="M447.00 194.20L449.50 198.80L444.50 198.80Z" fill="#cc0024" stroke="#b0001c" stroke-width="0.5" stroke-linejoin="round"/>
<path d="M451.20 213.90L453.70 218.50L448.70 218.50Z" fill="#cc0024" stroke="#b0001c" stroke-width="0.5" stroke-linejoin="round"/>
<path d="M447.70 218.70L450.20 223.30L445.20 223.30Z" fill="#cc0024" stroke="#b0001c" stroke-width="0.5" stroke-linejoin="round"/>
<path d="M455.00 219.50L457.50 224.10L452.50 224.10Z" fill="#cc0024" stroke="#b0001c" stroke-width="0.5" stroke-linejoin="round"/>
<path d="M451.20 223.50L453.70 228.10L448.70 228.10Z" fill="#cc0024" stroke="#b0001c" stroke-width="0.5" stroke-linejoin="round"/>
<path d="M473.50 238.80L476.00 243.40L471.00 243.40Z" fill="#22aa3c" stroke="#1a9432" stroke-width="0.5" stroke-linejoin="round"/>
<path d="M479.50 238.80L482.00 243.40L477.00 243.40Z" fill="#22aa3c" stroke="#1a9432" stroke-width="0.5" stroke-linejoin="round"/>
<path d="M476.50 241.30L479.00 245.90L474.00 245.90Z" fill="#22aa3c" stroke="#1a9432" stroke-width="0.5" stroke-linejoin="round"/>
<path d="M474.50 243.00L477.00 247.60L472.00 247.60Z" fill="#22aa3c" stroke="#1a9432" stroke-width="0.5" stroke-linejoin="round"/>
<path d="M478.50 243.00L481.00 247.60L476.00 247.60Z" fill="#22aa3c" stroke="#1a9432" stroke-width="0.5" stroke-linejoin="round"/>
<ellipse cx="476.5" cy="243.8" rx="3.5" ry="1.6" fill="#03280a" opacity="0.75"/>
<line x1="46" y1="56.5" x2="59.2" y2="56.5" stroke="#363636" stroke-width="1"/>
<line x1="65.9" y1="33.5" x2="78.8" y2="33.5" stroke="#363636" stroke-width="1"/>
<line x1="86" y1="30.5" x2="99" y2="30.5" stroke="#363636" stroke-width="1"/>
<line x1="104.8" y1="52.5" x2="118.5" y2="52.5" stroke="#363636" stroke-width="1"/>
<line x1="240" y1="59.5" x2="240" y2="76.5" stroke="#383838" stroke-width="1"/>
<line x1="236.75" y1="59.5" x2="243.25" y2="59.5" stroke="#383838" stroke-width="1"/>
<line x1="236.75" y1="76.5" x2="243.25" y2="76.5" stroke="#383838" stroke-width="1"/>
<line x1="233.5" y1="68.5" x2="246.5" y2="68.5" stroke="#363636" stroke-width="1"/>
<line x1="253.5" y1="107.5" x2="266" y2="107.5" stroke="#363636" stroke-width="1"/>
<line x1="279.2" y1="86.5" x2="279.2" y2="95.5" stroke="#383838" stroke-width="1"/>
<line x1="275.95" y1="86.5" x2="282.45" y2="86.5" stroke="#383838" stroke-width="1"/>
<line x1="275.95" y1="95.5" x2="282.45" y2="95.5" stroke="#383838" stroke-width="1"/>
<line x1="272.7" y1="90.5" x2="285.7" y2="90.5" stroke="#363636" stroke-width="1"/>
<line x1="298.9" y1="35.5" x2="298.9" y2="62.5" stroke="#383838" stroke-width="1"/>
<line x1="295.65" y1="35.5" x2="302.15" y2="35.5" stroke="#383838" stroke-width="1"/>
<line x1="295.65" y1="62.5" x2="302.15" y2="62.5" stroke="#383838" stroke-width="1"/>
<line x1="292.4" y1="48.5" x2="305.4" y2="48.5" stroke="#363636" stroke-width="1"/>
<line x1="421.6" y1="37.5" x2="421.6" y2="70.5" stroke="#383838" stroke-width="1"/>
<line x1="418.35" y1="37.5" x2="424.85" y2="37.5" stroke="#383838" stroke-width="1"/>
<line x1="418.35" y1="70.5" x2="424.85" y2="70.5" stroke="#383838" stroke-width="1"/>
<line x1="415.1" y1="54.5" x2="428.1" y2="54.5" stroke="#363636" stroke-width="1"/>
<line x1="441.3" y1="104.5" x2="441.3" y2="110.5" stroke="#383838" stroke-width="1"/>
<line x1="438.05" y1="104.5" x2="444.55" y2="104.5" stroke="#383838" stroke-width="1"/>
<line x1="438.05" y1="110.5" x2="444.55" y2="110.5" stroke="#383838" stroke-width="1"/>
<line x1="434.8" y1="107.5" x2="447.8" y2="107.5" stroke="#363636" stroke-width="1"/>
<line x1="460.9" y1="74.5" x2="460.9" y2="89.5" stroke="#383838" stroke-width="1"/>
<line x1="457.65" y1="74.5" x2="464.15" y2="74.5" stroke="#383838" stroke-width="1"/>
<line x1="457.65" y1="89.5" x2="464.15" y2="89.5" stroke="#383838" stroke-width="1"/>
<line x1="454.4" y1="82.5" x2="467.4" y2="82.5" stroke="#363636" stroke-width="1"/>
<line x1="480.4" y1="42.5" x2="480.4" y2="72.5" stroke="#383838" stroke-width="1"/>
<line x1="477.15" y1="42.5" x2="483.65" y2="42.5" stroke="#383838" stroke-width="1"/>
<line x1="477.15" y1="72.5" x2="483.65" y2="72.5" stroke="#383838" stroke-width="1"/>
<line x1="473.9" y1="57.5" x2="486.9" y2="57.5" stroke="#363636" stroke-width="1"/>
<line x1="52.7" y1="191.5" x2="52.7" y2="211.5" stroke="#383838" stroke-width="1"/>
<line x1="49.45" y1="191.5" x2="55.95" y2="191.5" stroke="#383838" stroke-width="1"/>
<line x1="49.45" y1="211.5" x2="55.95" y2="211.5" stroke="#383838" stroke-width="1"/>
<line x1="46.6" y1="202.5" x2="58.8" y2="202.5" stroke="#363636" stroke-width="1"/>
<line x1="66.2" y1="234.5" x2="78.6" y2="234.5" stroke="#363636" stroke-width="1"/>
<line x1="92" y1="225.5" x2="92" y2="232.5" stroke="#383838" stroke-width="1"/>
<line x1="88.75" y1="225.5" x2="95.25" y2="225.5" stroke="#383838" stroke-width="1"/>
<line x1="88.75" y1="232.5" x2="95.25" y2="232.5" stroke="#383838" stroke-width="1"/>
<line x1="85.3" y1="228.5" x2="98.7" y2="228.5" stroke="#363636" stroke-width="1"/>
<line x1="105" y1="228.5" x2="118.5" y2="228.5" stroke="#363636" stroke-width="1"/>
<line x1="243.75" y1="240.5" x2="243.75" y2="257.5" stroke="#383838" stroke-width="1"/>
<line x1="240.5" y1="240.5" x2="247.0" y2="240.5" stroke="#383838" stroke-width="1"/>
<line x1="240.5" y1="257.5" x2="247.0" y2="257.5" stroke="#383838" stroke-width="1"/>
<line x1="235.5" y1="248.5" x2="252.0" y2="248.5" stroke="#363636" stroke-width="1"/>
<line x1="261.25" y1="194.5" x2="277.75" y2="194.5" stroke="#363636" stroke-width="1"/>
<line x1="295.1" y1="223.5" x2="295.1" y2="250.5" stroke="#383838" stroke-width="1"/>
<line x1="291.6" y1="223.5" x2="298.6" y2="223.5" stroke="#383838" stroke-width="1"/>
<line x1="291.6" y1="250.5" x2="298.6" y2="250.5" stroke="#383838" stroke-width="1"/>
<line x1="286.25" y1="237.5" x2="303.95" y2="237.5" stroke="#363636" stroke-width="1"/>
<line x1="417.2" y1="253.5" x2="434.3" y2="253.5" stroke="#363636" stroke-width="1"/>
<line x1="451.4" y1="196.5" x2="451.4" y2="226.5" stroke="#383838" stroke-width="1"/>
<line x1="447.4" y1="196.5" x2="455.4" y2="196.5" stroke="#383838" stroke-width="1"/>
<line x1="447.4" y1="226.5" x2="455.4" y2="226.5" stroke="#383838" stroke-width="1"/>
<line x1="442.75" y1="211.5" x2="460.05" y2="211.5" stroke="#363636" stroke-width="1"/>
<line x1="468.5" y1="243.5" x2="485.75" y2="243.5" stroke="#363636" stroke-width="1"/>
</svg>
</body></html>
